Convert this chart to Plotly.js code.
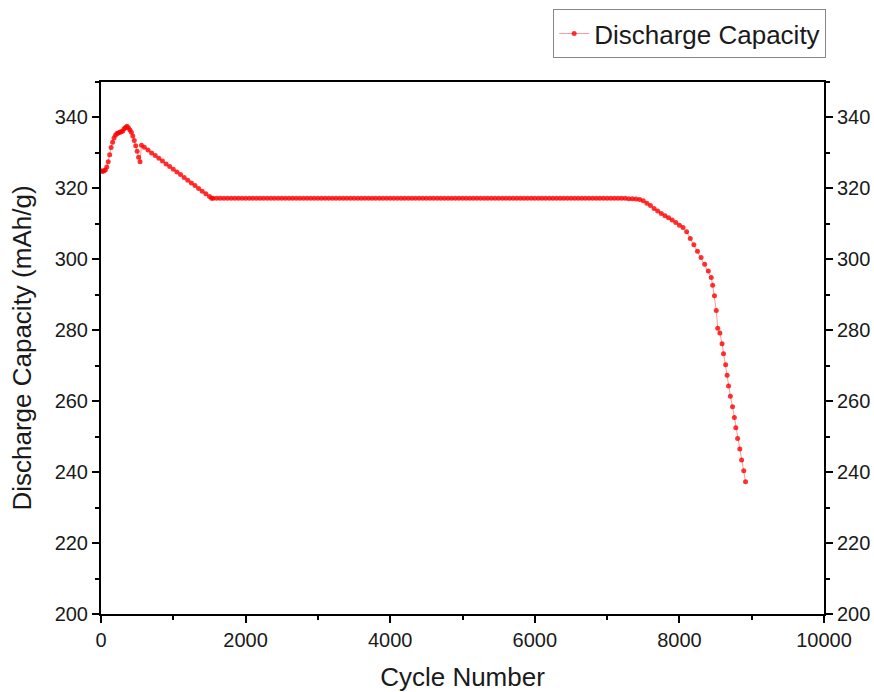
<!DOCTYPE html>
<html>
<head>
<meta charset="utf-8">
<script src="https://cdn.plot.ly/plotly-3.0.1.min.js"></script>
<style>html,body{margin:0;padding:0;background:#fff;}#chart{width:874px;height:692px;}</style>
</head>
<body>
<div id="chart"></div>
<script>
// Early rise and peak
const cyclesEarly = [0,20,40,60,80,100,120,140,160,180,200,220,240,260,280,300,320,340,360,380,400,420,440,460,480,500,520,540];
const capEarly = [325.0,324.8,325.0,325.2,326.0,327.5,329.5,331.5,333.0,334.2,335.0,335.5,335.6,335.8,336.0,336.2,336.8,337.2,337.5,337.0,336.5,335.8,334.8,333.5,332.0,330.5,328.8,327.5];
// Linear decline to plateau
const cyclesDecline = [560,600,650,700,750,800,850,900,950,1000,1050,1100,1150,1200,1250,1300,1350,1400,1450,1500,1530];
const capDecline = [332.2,331.6,330.8,330.0,329.3,328.5,327.7,326.9,326.2,325.4,324.6,323.9,323.1,322.3,321.5,320.8,320.0,319.2,318.5,317.7,317.2];
// Plateau
const cyclesPlateau = [1550,1600,1650,1700,1750,1800,1850,1900,1950,2000,
2050,2100,2150,2200,2250,2300,2350,2400,2450,2500,
2550,2600,2650,2700,2750,2800,2850,2900,2950,3000,
3050,3100,3150,3200,3250,3300,3350,3400,3450,3500,
3550,3600,3650,3700,3750,3800,3850,3900,3950,4000,
4050,4100,4150,4200,4250,4300,4350,4400,4450,4500,
4550,4600,4650,4700,4750,4800,4850,4900,4950,5000,
5050,5100,5150,5200,5250,5300,5350,5400,5450,5500,
5550,5600,5650,5700,5750,5800,5850,5900,5950,6000,
6050,6100,6150,6200,6250,6300,6350,6400,6450,6500,
6550,6600,6650,6700,6750,6800,6850,6900,6950,7000,
7050,7100,7150,7200,7250,7300,7350,7400,7450];
const capPlateau = [317.2,317.2,317.2,317.2,317.2,317.2,317.2,317.2,317.2,317.2,
317.2,317.2,317.2,317.2,317.2,317.2,317.2,317.2,317.2,317.2,
317.2,317.2,317.2,317.2,317.2,317.2,317.2,317.2,317.2,317.2,
317.2,317.2,317.2,317.2,317.2,317.2,317.2,317.2,317.2,317.2,
317.2,317.2,317.2,317.2,317.2,317.2,317.2,317.2,317.2,317.2,
317.2,317.2,317.2,317.2,317.2,317.2,317.2,317.2,317.2,317.2,
317.2,317.2,317.2,317.2,317.2,317.2,317.2,317.2,317.2,317.2,
317.2,317.2,317.2,317.2,317.2,317.2,317.2,317.2,317.2,317.2,
317.2,317.2,317.2,317.2,317.2,317.2,317.2,317.2,317.2,317.2,
317.2,317.2,317.2,317.2,317.2,317.2,317.2,317.2,317.2,317.2,
317.2,317.2,317.2,317.2,317.2,317.2,317.2,317.2,317.2,317.2,
317.2,317.2,317.2,317.2,317.2,317.1,317.1,317.0,316.9];
// Fade
const cyclesFade = [7500,7550,7600,7650,7700,7750,7800,7850,7900,7950,8000,8050,8100,8150,8200,8250,8300,8350,8400,8440,8460,8485,8510,8530,8560,8590,8610,8640,8660,8680,8705,8735,8760,8780,8805,8835,8860,8890,8915];
const capFade = [316.5,315.8,315.2,314.3,313.6,312.9,312.3,311.7,311.1,310.4,309.6,309.0,307.8,305.9,304.1,302.3,300.5,298.6,296.7,294.9,292.7,289.7,285.6,280.6,279.2,276.2,273.4,270.3,267.3,264.3,261.4,258.4,255.4,252.5,249.5,246.5,243.4,240.4,237.3];

const seriesName = 'Discharge Capacity';
const xTitle = 'Cycle Number';
const yTitle = 'Discharge Capacity (mAh/g)';

const cycles = cyclesEarly.concat(cyclesDecline, cyclesPlateau, cyclesFade);
const capacity = capEarly.concat(capDecline, capPlateau, capFade);

const FONT = 'Liberation Sans, Arial, sans-serif';
const TXT = '#1a1a1a';

const trace = {
  x: cycles, y: capacity, type: 'scatter', mode: 'lines+markers',
  name: seriesName,
  line: {color: 'rgba(255,70,70,0.55)', width: 1},
  marker: {color: 'rgba(255,0,0,0.8)', size: 5, symbol: 'circle'}
};
// carrier for the right-hand mirrored axis (no visible marks)
const rightAxisCarrier = {
  x: [null], y: [null], type: 'scatter', mode: 'markers', yaxis: 'y2',
  showlegend: false, hoverinfo: 'skip'
};

const axisCommon = {
  showline: true, linecolor: '#000', linewidth: 2,
  ticks: 'outside', ticklen: 7, tickwidth: 2, tickcolor: '#000',
  showgrid: false, zeroline: false,
  tickfont: {family: FONT, size: 20, color: TXT}
};

const layout = {
  width: 874, height: 692,
  margin: {l: 101, r: 50, t: 82, b: 78, autoexpand: false},
  paper_bgcolor: '#fff', plot_bgcolor: '#fff',
  font: {family: FONT, color: TXT},
  showlegend: true,
  legend: {
    x: 1.003, y: 1.091, xanchor: 'right', yanchor: 'middle',
    bordercolor: '#888', borderwidth: 1, bgcolor: '#fff',
    font: {family: FONT, size: 26, color: TXT}
  },
  xaxis: Object.assign({}, axisCommon, {
    range: [0, 10000], dtick: 2000, tick0: 0, mirror: true,
    tickformat: 'd', exponentformat: 'none',
    minor: {dtick: 1000, ticks: 'outside', ticklen: 4, tickwidth: 2, tickcolor: '#000'},
    title: {text: xTitle, font: {family: FONT, size: 26, color: TXT}, standoff: 18}
  }),
  yaxis: Object.assign({}, axisCommon, {
    range: [200, 350], dtick: 20, tick0: 200,
    minor: {dtick: 10, ticks: 'outside', ticklen: 4, tickwidth: 2, tickcolor: '#000'},
    title: {text: yTitle, font: {family: FONT, size: 26, color: TXT}, standoff: 16}
  }),
  yaxis2: Object.assign({}, axisCommon, {
    range: [200, 350], dtick: 20, tick0: 200,
    overlaying: 'y', side: 'right', anchor: 'x',
    minor: {dtick: 10, ticks: 'outside', ticklen: 4, tickwidth: 2, tickcolor: '#000'}
  })
};

Plotly.newPlot('chart', [trace, rightAxisCarrier], layout, {displayModeBar: false, staticPlot: true});
</script>
</body>
</html>
